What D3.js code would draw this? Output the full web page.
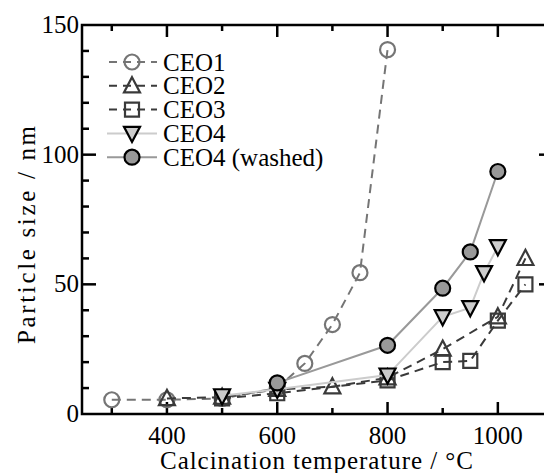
<!DOCTYPE html>
<html lang="en">
<head>
  <meta charset="UTF-8">
  <title>Particle size vs calcination temperature</title>
  <script src="https://d3js.org/d3.v7.min.js"></script>
  <style>
    body { margin: 0; background: #fff; }
    svg { display: block; }
  </style>
</head>
<body>
  <svg width="544" height="473"></svg>

  <script>
    // data
    const ceo1Temp = [300, 400, 500, 600, 650, 700, 750, 800];
    const ceo1Size = [5.5, 5.5, 6, 10, 19.5, 34.5, 54.5, 140.5];

    const ceo2Temp = [400, 500, 600, 700, 800, 900, 1000, 1050];
    const ceo2Size = [6, 6.5, 9.5, 10.5, 14, 25, 37.5, 60];

    const ceo3Temp = [500, 600, 800, 900, 950, 1000, 1050];
    const ceo3Size = [6, 8, 13, 20, 20.5, 36, 50];

    const ceo4Temp = [500, 600, 800, 900, 950, 975, 1000];
    const ceo4Size = [7, 9.5, 15, 37.5, 41, 54.5, 64.5];

    const washTemp = [600, 800, 900, 950, 1000];
    const washSize = [12, 26.5, 48.5, 62.5, 93.5];

    const seriesNames = ["CEO1", "CEO2", "CEO3", "CEO4", "CEO4 (washed)"];
    const xTicks = [400, 600, 800, 1000];
    const yTicks = [0, 50, 100, 150];

    const series = [
      { name: seriesNames[0], t: ceo1Temp, v: ceo1Size, sym: "circle", line: "#757575", stroke: "#757575", fill: "none", dash: "9,6", r: 7.5 },
      { name: seriesNames[1], t: ceo2Temp, v: ceo2Size, sym: "up", line: "#3a3a3a", stroke: "#3a3a3a", fill: "none", dash: "9,6", r: 8 },
      { name: seriesNames[2], t: ceo3Temp, v: ceo3Size, sym: "square", line: "#3a3a3a", stroke: "#3a3a3a", fill: "none", dash: "9,6", r: 7 },
      { name: seriesNames[3], t: ceo4Temp, v: ceo4Size, sym: "down", line: "#cccccc", stroke: "#000", fill: "#cccccc", dash: null, r: 8 },
      { name: seriesNames[4], t: washTemp, v: washSize, sym: "circle", line: "#999999", stroke: "#000", fill: "#999999", dash: null, r: 7.5 }
    ];

    const svg = d3.select("svg");
    const pLeft = 82, pRight = 553, pTop = 25, pBottom = 414;
    const font = "Liberation Serif, Times New Roman, serif";

    const x = d3.scaleLinear().domain([246, 1100]).range([pLeft, pRight]);
    const y = d3.scaleLinear().domain([0, 150]).range([pBottom, pTop]);

    // axes frame with inward ticks
    const axes = svg.append("g").attr("stroke", "#000").attr("stroke-width", 2.5);
    axes.append("path")
      .attr("fill", "none")
      .attr("d", `M${pRight},${pTop}H${pLeft}V${pBottom}H${pRight}V${pTop}`);

    d3.range(300, 1100, 100).forEach(t => {
      const len = t % 200 === 0 ? 12 : 6;
      axes.append("line").attr("x1", x(t)).attr("x2", x(t)).attr("y1", pBottom).attr("y2", pBottom - len);
      axes.append("line").attr("x1", x(t)).attr("x2", x(t)).attr("y1", pTop).attr("y2", pTop + len);
    });
    d3.range(10, 150, 10).forEach(v => {
      const len = v % 50 === 0 ? 14 : 7;
      axes.append("line").attr("x1", pLeft).attr("x2", pLeft + len).attr("y1", y(v)).attr("y2", y(v));
      axes.append("line").attr("x1", pRight).attr("x2", pRight - len).attr("y1", y(v)).attr("y2", y(v));
    });

    svg.append("g").selectAll("text")
      .data(xTicks).join("text")
      .attr("font-family", font).attr("font-size", 25)
      .attr("x", d => x(d)).attr("y", pBottom + 30)
      .attr("text-anchor", "middle")
      .text(d => d);

    svg.append("g").selectAll("text")
      .data(yTicks).join("text")
      .attr("font-family", font).attr("font-size", 25)
      .attr("x", pLeft - 3).attr("y", d => y(d) + 8)
      .attr("text-anchor", "end")
      .text(d => d);

    svg.append("text")
      .attr("font-family", font).attr("font-size", 25)
      .attr("x", 160).attr("y", 469)
      .attr("textLength", 313).attr("lengthAdjust", "spacing")
      .text("Calcination temperature / °C");

    svg.append("text")
      .attr("font-family", font).attr("font-size", 25)
      .attr("transform", `translate(35,344) rotate(-90)`)
      .attr("textLength", 218).attr("lengthAdjust", "spacing")
      .text("Particle size / nm");

    function symbolPath(sym, r) {
      if (sym === "circle") return d3.arc()({ innerRadius: 0, outerRadius: r, startAngle: 0, endAngle: 2 * Math.PI });
      if (sym === "square") return `M${-r},${-r}H${r}V${r}H${-r}Z`;
      const h = r * 0.95;
      if (sym === "up") return `M0,${-h - 1}L${r},${h - 1}H${-r}Z`;
      return `M0,${h + 1}L${r},${-h + 1}H${-r}Z`;
    }

    const line = d3.line();

    series.forEach(s => {
      const pts = s.t.map((t, i) => [x(t), y(s.v[i])]);
      const g = svg.append("g");
      g.append("path")
        .attr("d", line(pts))
        .attr("fill", "none")
        .attr("stroke", s.line)
        .attr("stroke-width", 2)
        .attr("stroke-dasharray", s.dash);
      g.selectAll(".mark")
        .data(pts).join("path")
        .attr("class", "mark")
        .attr("transform", d => `translate(${d[0]},${d[1]})`)
        .attr("d", symbolPath(s.sym, s.r))
        .attr("fill", s.fill)
        .attr("stroke", s.stroke)
        .attr("stroke-width", 2.2);
    });

    // legend
    const legend = svg.append("g");
    series.forEach((s, i) => {
      const ly = 62 + i * 23.8;
      const row = legend.append("g").attr("transform", `translate(132,${ly})`);
      row.append("line")
        .attr("x1", -25).attr("x2", 25).attr("y1", 0).attr("y2", 0)
        .attr("stroke", s.line).attr("stroke-width", 2)
        .attr("stroke-dasharray", s.dash ? "8,6" : null)
        .attr("stroke-dashoffset", s.dash ? -2 : null);
      row.append("path")
        .attr("d", symbolPath(s.sym, s.r))
        .attr("fill", s.fill)
        .attr("stroke", s.stroke)
        .attr("stroke-width", 2.2);
      row.append("text")
        .attr("font-family", font).attr("font-size", 25)
        .attr("x", 31).attr("y", 8.5)
        .text(s.name);
    });
  </script>
</body>
</html>
